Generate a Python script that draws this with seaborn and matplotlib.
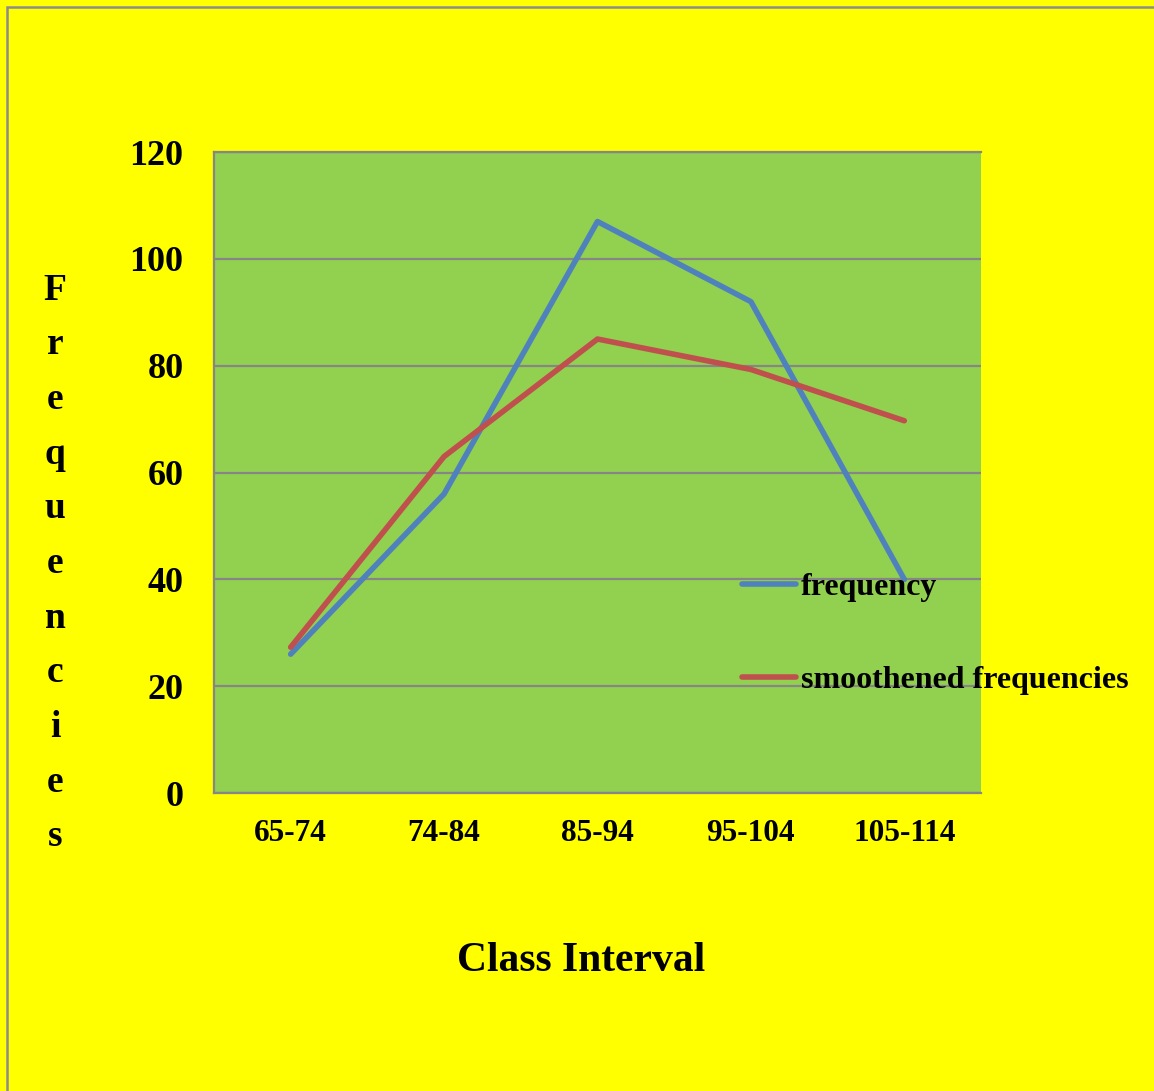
import matplotlib
matplotlib.use("Agg")
import matplotlib.pyplot as plt
import matplotlib.patches as mpatches
import seaborn as sns
import pandas as pd

# Class intervals and their frequencies
class_intervals = ["65-74", "74-84", "85-94", "95-104", "105-114"]
frequency = [26, 56, 107, 92, 40]
smoothened = [27.3, 63, 85, 79.3, 69.7]
series_names = ["frequency", "smoothened frequencies"]
y_ticks = [0, 20, 40, 60, 80, 100, 120]

df = pd.DataFrame({
    "interval": class_intervals * 2,
    "value": frequency + smoothened,
    "series": [series_names[0]] * len(class_intervals) + [series_names[1]] * len(class_intervals),
})

sns.set_theme(style="white")
plt.rcParams["font.family"] = ["Liberation Serif", "DejaVu Serif"]
plt.rcParams["font.weight"] = "bold"
plt.rcParams["text.color"] = "black"
plt.rcParams["xtick.color"] = "black"
plt.rcParams["ytick.color"] = "black"

fig = plt.figure(figsize=(11.54, 10.91), dpi=100, facecolor="#FFFF00")
ax = fig.add_axes([0.1854, 0.2731, 0.6647, 0.5875])
ax.set_facecolor("#92D050")

sns.lineplot(
    data=df, x="interval", y="value", hue="series", sort=False,
    palette={series_names[0]: "#4F81BD", series_names[1]: "#C0504D"},
    linewidth=4.0, ax=ax, solid_capstyle="round",
)

ax.set_xlim(-0.5, len(class_intervals) - 0.5)
ax.set_ylim(0, 120)
ax.set_yticks(y_ticks)
ax.yaxis.grid(True, color="#868686", linewidth=1.6)
ax.set_axisbelow(True)
for side in ["left", "bottom", "top"]:
    ax.spines[side].set_color("#868686")
    ax.spines[side].set_linewidth(1.6)
ax.spines["right"].set_visible(False)
ax.tick_params(axis="both", length=0, colors="black")
ax.tick_params(axis="y", labelsize=26, pad=22)
ax.tick_params(axis="x", labelsize=22.5, pad=19)
for lbl in ax.get_xticklabels() + ax.get_yticklabels():
    lbl.set_fontweight("bold")
    lbl.set_color("black")
ax.set_xlabel("")
ax.set_ylabel("")

# Legend placed inside the plot area to the right
ax.legend(
    loc="upper left", bbox_to_anchor=(742 / 1154, 1 - 573 / 1091),
    bbox_transform=fig.transFigure, frameon=False, borderpad=0, borderaxespad=0,
    handlelength=1.7, handletextpad=0.15, labelspacing=1.98,
    prop={"family": "Liberation Serif", "weight": "bold", "size": 23},
)
leg = ax.get_legend()
for line in leg.get_lines():
    line.set_linewidth(4.0)
    line.set_solid_capstyle("round")
for t in leg.get_texts():
    t.set_color("black")

fig.text(0.504, 0.1195, "Class Interval", ha="center", va="center",
         fontsize=30, fontweight="bold", color="black")

# Vertical stacked axis title
word = "Frequencies"
for i, ch in enumerate(word):
    y_px = 290 + i * 54.7
    fig.text(55 / 1154, 1 - y_px / 1091, ch, ha="center", va="center",
             fontsize=27, fontweight="bold", color="black")

# Outer chart border
fig.patches.append(mpatches.Rectangle(
    (7 / 1154, -0.1), 1.2, 1.1 - 7 / 1091, transform=fig.transFigure,
    fill=False, edgecolor="#8C8C8C", linewidth=1.8, clip_on=False))

fig.savefig("out.png", dpi=100, facecolor=fig.get_facecolor())
